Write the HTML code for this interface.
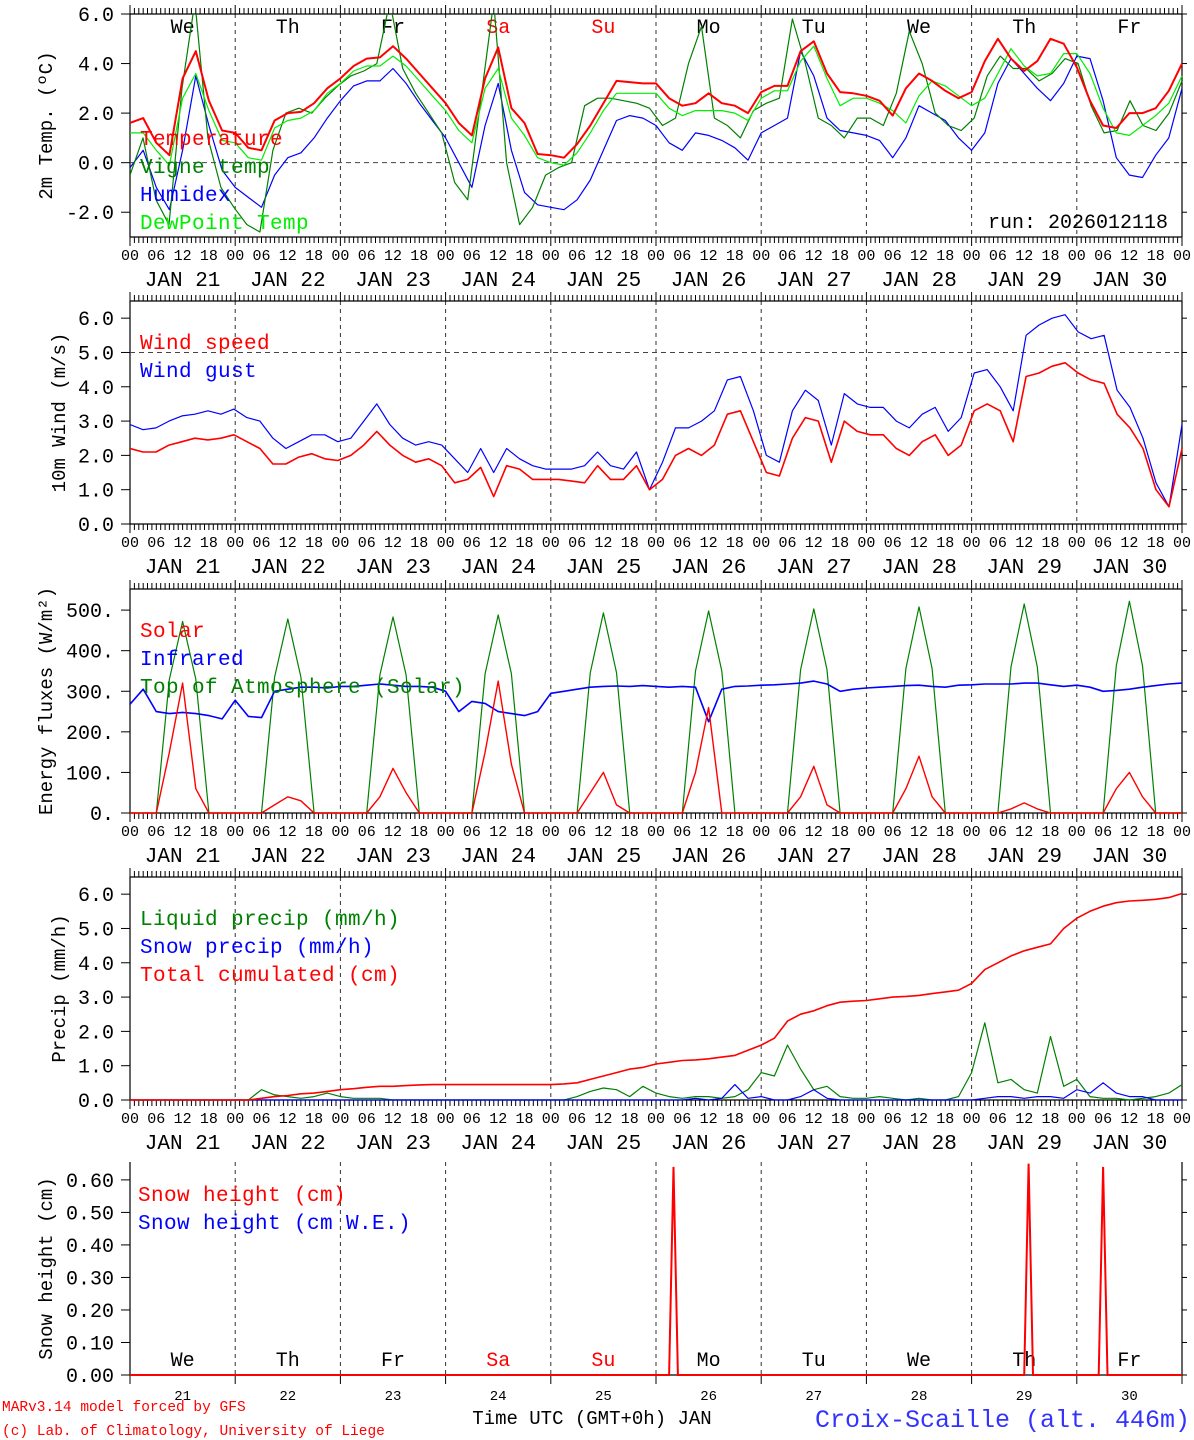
<!DOCTYPE html>
<html><head><meta charset="utf-8">
<style>
html,body{margin:0;padding:0;background:#fff;}
svg{display:block;font-family:"Liberation Mono","DejaVu Sans Mono",monospace;}
</style></head>
<body>
<svg id="chart" width="1194" height="1440" viewBox="0 0 1194 1440" xmlns="http://www.w3.org/2000/svg"></svg>
<script>
// ---------- DATA (3-hourly, 21 Jan 00UTC .. 31 Jan 00UTC) ----------
const dayNames = ["We","Th","Fr","Sa","Su","Mo","Tu","We","Th","Fr"];
const dayNums = ["21","22","23","24","25","26","27","28","29","30"];
const hourLabels = ["00","06","12","18"];
const tempTicks = [-2,0,2,4,6];
const windTicks = [0,1,2,3,4,5,6];
const energyTicks = [0,100,200,300,400,500];
const precipTicks = [0,1,2,3,4,5,6];
const snowTicks = [0,0.1,0.2,0.3,0.4,0.5,0.6];

const temperature = [1.6,1.8,0.8,0.3,3.4,4.5,2.5,1.3,1.2,0.6,0.5,1.7,2.0,2.05,2.4,3.0,3.4,3.9,4.2,4.25,4.7,4.2,3.6,3.0,2.4,1.6,1.1,3.4,4.65,2.2,1.6,0.35,0.3,0.2,0.75,1.5,2.4,3.3,3.25,3.2,3.2,2.6,2.3,2.4,2.8,2.4,2.3,2.0,2.85,3.1,3.1,4.5,4.9,3.6,2.85,2.8,2.7,2.5,1.9,3.0,3.6,3.3,2.9,2.6,2.85,4.1,5.0,4.2,3.7,4.1,5.0,4.8,3.85,2.5,1.5,1.4,2.0,2.0,2.2,2.9,4.0];
const vigneTemp = [-0.5,1.0,-1.5,-2.5,3.0,6.5,1.0,-1.0,-1.8,-2.5,-2.8,0.5,2.0,2.2,2.0,2.6,3.1,3.5,3.7,4.0,6.5,3.8,2.8,2.0,1.2,-0.8,-1.5,2.5,6.5,0.0,-2.5,-1.8,-0.5,-0.2,0.0,2.3,2.6,2.6,2.5,2.4,2.2,1.5,1.8,4.0,5.5,1.8,1.5,1.0,2.1,2.4,2.6,5.8,4.0,1.8,1.5,1.0,1.8,1.8,1.5,2.8,5.3,4.0,2.0,1.5,1.3,1.8,3.5,4.3,3.8,3.8,3.3,3.6,4.2,4.0,2.3,1.2,1.3,2.5,1.5,1.3,2.0,3.3];
const humidex = [-0.2,0.5,-1.0,-1.9,0.5,3.5,1.5,-0.3,-1.0,-1.4,-1.8,-0.5,0.2,0.4,1.0,1.8,2.5,3.1,3.3,3.3,3.8,3.2,2.4,1.7,1.0,0.0,-1.0,1.5,3.2,0.5,-1.2,-1.7,-1.8,-1.9,-1.5,-0.7,0.5,1.7,1.9,1.8,1.5,0.8,0.5,1.2,1.1,0.9,0.6,0.1,1.2,1.5,1.8,4.5,3.5,1.8,1.3,1.2,1.1,0.9,0.2,1.0,2.3,2.0,1.7,1.0,0.5,1.2,3.2,4.2,3.6,3.0,2.5,3.2,4.3,4.2,2.5,0.2,-0.5,-0.6,0.3,1.0,3.0];
const dewPoint = [1.2,1.2,0.5,-0.1,2.6,3.6,2.1,0.9,0.8,0.2,0.1,1.4,1.7,1.8,2.1,2.8,3.2,3.7,3.9,3.9,4.3,3.9,3.3,2.7,2.1,1.3,0.8,3.0,3.8,1.8,1.1,0.2,0.0,-0.1,0.4,1.2,2.1,2.8,2.8,2.8,2.8,2.2,1.9,2.1,2.1,2.1,2.0,1.7,2.6,2.9,2.9,4.1,4.7,3.4,2.3,2.6,2.6,2.4,2.1,1.6,2.7,3.3,3.1,2.7,2.3,2.6,3.6,4.6,3.9,3.5,3.6,4.4,4.4,3.6,2.2,1.2,1.1,1.5,1.9,2.4,3.5];

const windSpeed = [2.2,2.1,2.1,2.3,2.4,2.5,2.45,2.5,2.6,2.4,2.2,1.75,1.75,1.95,2.05,1.9,1.85,2.0,2.3,2.7,2.3,2.0,1.8,1.9,1.7,1.2,1.3,1.65,0.8,1.7,1.6,1.3,1.3,1.3,1.25,1.2,1.7,1.3,1.3,1.7,1.0,1.3,2.0,2.2,2.0,2.3,3.2,3.3,2.4,1.5,1.4,2.5,3.1,3.0,1.8,3.0,2.7,2.6,2.6,2.2,2.0,2.4,2.6,2.0,2.3,3.3,3.5,3.3,2.4,4.3,4.4,4.6,4.7,4.4,4.2,4.1,3.2,2.8,2.2,1.0,0.5,2.2];
const windGust = [2.9,2.75,2.8,3.0,3.15,3.2,3.3,3.2,3.35,3.1,3.0,2.5,2.2,2.4,2.6,2.6,2.4,2.5,3.0,3.5,2.9,2.5,2.3,2.4,2.3,1.9,1.5,2.2,1.5,2.2,1.9,1.7,1.6,1.6,1.6,1.7,2.1,1.7,1.6,2.1,1.0,1.8,2.8,2.8,3.0,3.3,4.2,4.3,3.3,2.0,1.8,3.3,3.9,3.6,2.3,3.8,3.5,3.4,3.4,3.0,2.8,3.2,3.4,2.7,3.1,4.4,4.5,4.0,3.3,5.5,5.8,6.0,6.1,5.6,5.4,5.5,3.9,3.4,2.5,1.2,0.5,2.9];

const solar = [0,0,0,150,320,60,0,0, 0,0,0,20,40,30,0,0, 0,0,0,40,110,50,0,0, 0,0,0,150,325,120,0,0, 0,0,0,50,100,20,0,0, 0,0,0,100,260,0,0,0, 0,0,0,40,115,20,0,0, 0,0,0,60,140,40,0,0, 0,0,0,10,25,10,0,0, 0,0,0,60,100,40,0,0, 0];
const infrared = [268,305,250,245,248,245,240,232, 278,238,235,300,305,310,310,308, 312,312,315,318,315,312,312,310, 300,250,275,270,250,245,240,250, 295,300,305,310,312,313,312,314, 312,310,312,310,225,305,312,313, 315,316,318,320,325,318,300,305, 308,310,312,314,315,312,310,315, 316,318,318,318,320,320,316,312, 315,310,300,302,305,310,314,318, 320];
const toaSolar = [0,0,0,330,472,330,0,0, 0,0,0,335,478,335,0,0, 0,0,0,340,483,340,0,0, 0,0,0,343,488,343,0,0, 0,0,0,346,493,346,0,0, 0,0,0,350,498,350,0,0, 0,0,0,353,503,353,0,0, 0,0,0,356,508,356,0,0, 0,0,0,360,515,360,0,0, 0,0,0,363,522,363,0,0, 0];

const liquidPrecip = [0,0,0,0,0,0,0,0, 0,0,0.3,0.15,0.1,0.05,0.1,0.2, 0.1,0.05,0.05,0.05,0,0,0,0, 0,0,0,0,0,0,0,0, 0,0,0.1,0.25,0.35,0.3,0.1,0.4, 0.2,0.1,0.05,0.1,0.1,0.05,0.1,0.3, 0.8,0.7,1.6,0.9,0.3,0.4,0.1,0.05, 0.05,0.1,0.05,0,0.05,0,0,0.1, 0.8,2.25,0.5,0.6,0.3,0.2,1.85,0.4, 0.6,0.1,0.05,0.05,0,0.05,0.1,0.2, 0.45];
const snowPrecip = [0,0,0,0,0,0,0,0, 0,0,0,0,0,0,0,0, 0,0,0,0,0,0,0,0, 0,0,0,0,0,0,0,0, 0,0,0,0,0,0,0,0, 0,0,0,0.05,0,0.05,0.45,0.05, 0.1,0,0,0.1,0.3,0.05,0,0, 0,0,0,0,0,0,0,0, 0,0.05,0.1,0.1,0.05,0.1,0.1,0.05, 0.3,0.2,0.5,0.2,0.1,0.1,0,0, 0];
const totalCumulated = [0,0,0,0,0,0,0,0, 0,0,0.05,0.1,0.13,0.18,0.2,0.25, 0.3,0.33,0.37,0.4,0.4,0.42,0.44,0.45, 0.45,0.45,0.45,0.45,0.45,0.45,0.45,0.45, 0.45,0.47,0.5,0.6,0.7,0.8,0.9,0.95, 1.05,1.1,1.15,1.17,1.2,1.25,1.3,1.45, 1.6,1.8,2.3,2.5,2.6,2.75,2.85,2.88, 2.9,2.95,3.0,3.02,3.05,3.1,3.15,3.2, 3.4,3.8,4.0,4.2,4.35,4.45,4.55,5.0, 5.3,5.5,5.65,5.75,5.8,5.82,5.85,5.9, 6.02];

const snowSpikeHours = [124,205,222];
const snowSpikeValues = [0.64,0.65,0.64];

// ---------- RENDER ----------
const NS = "http://www.w3.org/2000/svg";
const svg = document.getElementById("chart");
const X0 = 130, X1 = 1182;
function xh(h){ return X0 + (X1 - X0) * h / 240; }
function el(tag, attrs, parent){ const e = document.createElementNS(NS, tag); for (const k in attrs) e.setAttribute(k, attrs[k]); (parent||svg).appendChild(e); return e; }
function txt(s, x, y, size, color, anchor, parent){ const t = el("text", {x:x, y:y, "font-size":size, fill:color, "text-anchor":anchor||"start"}, parent); t.textContent = s; return t; }

const panels = [
  {name:"temperature", top:14, bottom:237, ymin:-3, ymax:6, ticks:tempTicks, fmt:v=>v.toFixed(1), title:"2m Temp. (ºC)", tx:45},
  {name:"wind", top:301, bottom:524, ymin:0, ymax:6.5, ticks:windTicks, fmt:v=>v.toFixed(1), title:"10m Wind (m/s)", tx:58},
  {name:"energy", top:589, bottom:813, ymin:0, ymax:552, ticks:energyTicks, fmt:v=>v+".", title:"Energy fluxes (W/m²)", tx:45},
  {name:"precip", top:877, bottom:1100, ymin:0, ymax:6.5, ticks:precipTicks, fmt:v=>v.toFixed(1), title:"Precip (mm/h)", tx:58},
  {name:"snow", top:1162, bottom:1375, ymin:0, ymax:0.655, ticks:snowTicks, fmt:v=>v.toFixed(2), title:"Snow height (cm)", tx:45}
];
function yv(p, v){ return p.bottom - (v - p.ymin) * (p.bottom - p.top) / (p.ymax - p.ymin); }

panels.forEach((p, pi) => {
  const g = el("g", {});
  
  
  for (let d = 1; d < 10; d++) {
    const l = el("line", {x1:xh(d*24), x2:xh(d*24), y1:p.top, y2:p.bottom, stroke:"#333", "stroke-width":1, "stroke-dasharray":"4,4"}, g);
    
    
  }
  const ax = el("path", {d:`M${X0} ${p.top} V${p.bottom} M${X1} ${p.top} V${p.bottom} M${X0} ${p.bottom} H${X1}` + (pi<4?` M${X0} ${p.top} H${X1}`:""), stroke:"#000", "stroke-width":1.2, fill:"none"}, g);
  
  
  p.ticks.forEach(v => {
    const y = yv(p, v);
    el("line", {x1:X0-9, x2:X0, y1:y, y2:y, stroke:"#000"}, g);
    el("line", {x1:X1, x2:X1+5, y1:y, y2:y, stroke:"#000"}, g);
    const t = txt(p.fmt(v), X0-16, y+7, 20, "#000", "end", g);
    
    
  });
  const cy = (p.top + p.bottom) / 2;
  const tt = txt(p.title, 0, 0, 19, "#000", "middle", g);
  tt.setAttribute("transform", `translate(${p.tx+7},${cy}) rotate(-90)`);
  
  
  if (pi < 4) {
    let dstr = "";
    for (let h = 0; h <= 240; h++) {
      const x = xh(h).toFixed(1);
      const len = h % 24 === 0 ? 9 : 6;
      dstr += `M${x} ${p.bottom} v${len} M${x} ${p.top} v${-len} `;
    }
    el("path", {d:dstr, stroke:"#000", "stroke-width":1}, g);
    for (let d = 0; d < 10; d++) {
      hourLabels.forEach((hl, k) => {
        const t = txt(hl, xh(d*24 + k*6), p.bottom+23, 15, "#000", "middle", g);
        
        
      });
      const jt = txt("JAN " + dayNums[d], xh(d*24+12), p.bottom+49, 21, "#000", "middle", g);
      
      
    }
    const t = txt("00", xh(240), p.bottom+23, 15, "#000", "middle", g);
    
    
  }
});

function series(pi, arr, color, width, name){
  const p = panels[pi];
  const n = arr.length;
  const pts = arr.map((v, i) => xh(i * 240 / (n - 1)).toFixed(1) + "," + yv(p, v).toFixed(1)).join(" ");
  const pl = el("polyline", {points:pts, fill:"none", stroke:color, "stroke-width":width, "stroke-linejoin":"round", "clip-path":"url(#clip" + pi + ")"});
  
  
}
const defs = el("defs", {});
panels.forEach((p, pi) => {
  const cp = el("clipPath", {id:"clip"+pi}, defs);
  el("rect", {x:X0, y:p.top, width:X1-X0+2, height:p.bottom-p.top+1}, cp);
});

[[0,0],[1,5]].forEach(([pi,v]) => {
  const l = el("line", {x1:X0, x2:X1, y1:yv(panels[pi], v), y2:yv(panels[pi], v), stroke:"#444", "stroke-dasharray":"5,4"});
  
  
});

dayNames.forEach((dn, d) => {
  const col = (d === 3 || d === 4) ? "#f00" : "#000";
  const a = txt(dn, xh(d*24+12), 33, 20, col, "middle");
  
  
  const b = txt(dn, xh(d*24+12), 1366, 20, col, "middle");
  
  
  const c = txt(dayNums[d], xh(d*24+12), 1400, 14, "#000", "middle");
  
  
});
for (let d = 0; d <= 10; d++) el("line", {x1:xh(d*24), x2:xh(d*24), y1:1375, y2:1384, stroke:"#000"});

series(0, humidex, "#0000ff", 1.2, "humidex-line");
series(0, vigneTemp, "#008000", 1.2, "vigne-temp-line");
series(0, dewPoint, "#00ee00", 1.2, "dewpoint-line");
series(0, temperature, "#ff0000", 2, "temperature-line");
series(1, windGust, "#0000ff", 1.2, "wind-gust-line");
series(1, windSpeed, "#ff0000", 1.6, "wind-speed-line");
series(2, toaSolar, "#008000", 1.2, "toa-solar-line");
series(2, infrared, "#0000ff", 1.6, "infrared-line");
series(2, solar, "#ff0000", 1.4, "solar-line");
series(3, liquidPrecip, "#008000", 1.2, "liquid-precip-line");
series(3, snowPrecip, "#0000ff", 1.2, "snow-precip-line");
series(3, totalCumulated, "#ff0000", 1.6, "total-cumulated-line");
(function(){
  const p = panels[4];
  let pts = [[0,0]];
  snowSpikeHours.forEach((h, i) => { pts.push([h-1,0],[h,snowSpikeValues[i]],[h+1,0]); });
  pts.push([240,0]);
  const pl = el("polyline", {points:pts.map(q => xh(q[0]).toFixed(1)+","+yv(p,q[1]).toFixed(1)).join(" "), fill:"none", stroke:"#ff0000", "stroke-width":2});
  
  
})();

function legend(items, x, y0){
  items.forEach((it, i) => {
    const t = txt(it[0], x, y0 + i*28, 21, it[1], "start");
    t.setAttribute("letter-spacing", "0.4");
    
    
  });
}
legend([["Temperature","#ff0000"],["Vigne temp","#008000"],["Humidex","#0000ff"],["DewPoint Temp","#00ee00"]], 140, 145);
legend([["Wind speed","#ff0000"],["Wind gust","#0000ff"]], 140, 349);
legend([["Solar","#ff0000"],["Infrared","#0000ff"],["Top of Atmosphere (Solar)","#008000"]], 140, 637);
legend([["Liquid precip (mm/h)","#008000"],["Snow precip (mm/h)","#0000ff"],["Total cumulated (cm)","#ff0000"]], 140, 925);
legend([["Snow height (cm)","#ff0000"],["Snow height (cm W.E.)","#0000ff"]], 138, 1201);

const run = txt("run: 2026012118", 1168, 228, 20, "#000", "end");


const xt = txt("Time UTC (GMT+0h) JAN", 592, 1424, 19, "#000", "middle");


const c1 = txt("MARv3.14 model forced by GFS", 2, 1411, 14.5, "#ff0000", "start");


const c2 = txt("(c) Lab. of Climatology, University of Liege", 2, 1435, 14.5, "#ff0000", "start");


const st = txt("Croix-Scaille (alt. 446m)", 1190, 1427, 25, "#3333ff", "end");


</script>
</body></html>
